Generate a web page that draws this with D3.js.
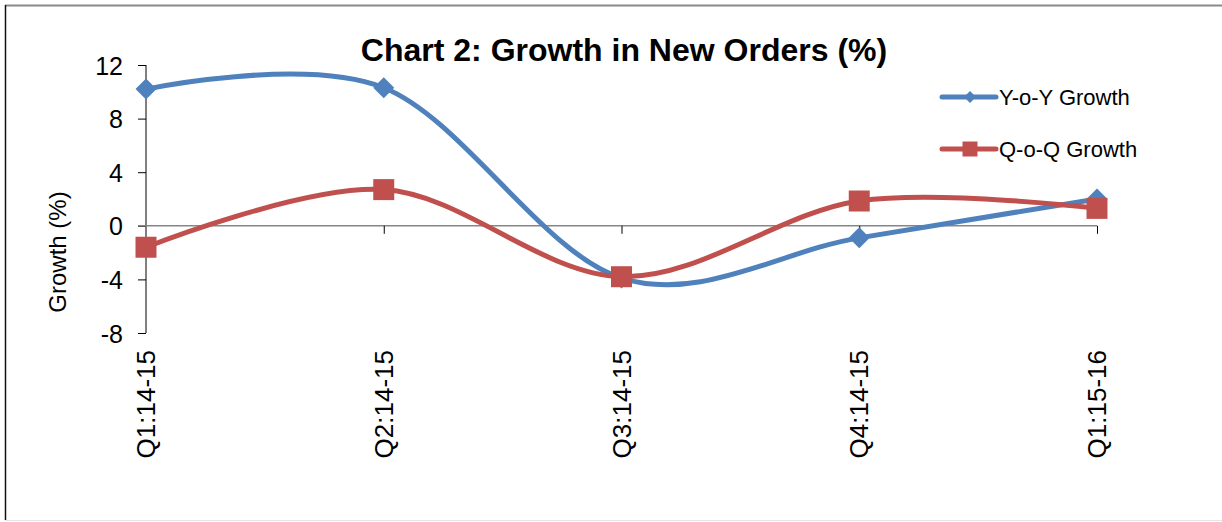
<!DOCTYPE html>
<html>
<head>
<meta charset="utf-8">
<script src="https://cdn.jsdelivr.net/npm/d3@7"></script>
<style>
  body { margin: 0; background: #fff; overflow: hidden; }
  text { font-family: "Liberation Sans", Arial, sans-serif; fill: #000; }
</style>
</head>
<body>
<div id="chart"></div>
<script>
var quarters = ['Q1:14-15', 'Q2:14-15', 'Q3:14-15', 'Q4:14-15', 'Q1:15-16'];
var yoyGrowth = [10.2, 10.3, -3.9, -0.9, 2.0];
var qoqGrowth = [-1.6, 2.7, -3.8, 1.85, 1.3];
var yTicks = [-8, -4, 0, 4, 8, 12];

var width = 1222, height = 522;
var margin = {top: 65, left: 146, right: 125, bottom: 189};
var chartWidth = width - margin.left - margin.right;
var chartHeight = height - margin.top - margin.bottom;

var svg = d3.select('#chart').append('svg')
  .attr('width', width)
  .attr('height', height)
  .style('display', 'block');

// outer frame, cropped on the right like the original
svg.append('line')
  .attr('x1', 5).attr('x2', width).attr('y1', 5.5).attr('y2', 5.5)
  .attr('stroke', '#8a8a8a').attr('stroke-width', 2);
svg.append('line')
  .attr('x1', 5.5).attr('x2', 5.5).attr('y1', 5).attr('y2', 520)
  .attr('stroke', '#111').attr('stroke-width', 1.5);
svg.append('line')
  .attr('x1', 5).attr('x2', width).attr('y1', 520.5).attr('y2', 520.5)
  .attr('stroke', '#e6e6e6').attr('stroke-width', 1);

var g = svg.append('g')
  .attr('transform', `translate(${margin.left}, ${margin.top})`);

var xScale = d3.scalePoint()
  .domain(quarters)
  .range([0, chartWidth]);

var yScale = d3.scaleLinear()
  .domain([-8, 12])
  .range([chartHeight, 0]);

// y axis
var yAxis = d3.axisLeft(yScale).tickValues(yTicks).tickSize(8).tickPadding(15)
  .tickFormat(d => String(d));
var yG = g.append('g').attr('class', 'y axis').call(yAxis);
yG.attr('font-family', null).attr('font-size', null);
yG.select('.domain').attr('stroke', '#000').attr('d', `M0,${chartHeight}V0`);
yG.selectAll('.tick line').attr('stroke', '#000');
yG.selectAll('.tick text')
  .style('font-size', '25px')
  .attr('dy', '0.36em');

// x axis along zero
var xAxis = d3.axisBottom(xScale).tickSize(8).tickFormat('');
var xG = g.append('g').attr('class', 'x axis')
  .attr('transform', `translate(0,${yScale(0)})`)
  .call(xAxis);
xG.select('.domain').attr('stroke', '#868686').attr('stroke-width', 1.5)
  .attr('d', `M-8,0H${chartWidth}`);
xG.selectAll('.tick line').attr('stroke', '#000');
xG.selectAll('.tick').filter((d, i) => i === 0).select('line').remove();

// category labels, rotated, hung below the plot
g.append('g').selectAll('text.cat')
  .data(quarters)
  .enter().append('text')
  .attr('class', 'cat')
  .attr('transform', d => `translate(${xScale(d) + 9}, ${chartHeight + 17}) rotate(-90)`)
  .attr('text-anchor', 'end')
  .style('font-size', '26px')
  .text(d => d);

// y axis title
svg.append('text')
  .attr('transform', 'translate(66, 252) rotate(-90)')
  .attr('text-anchor', 'middle')
  .style('font-size', '24px')
  .text('Growth (%)');

// title
svg.append('text')
  .attr('x', 624).attr('y', 61)
  .attr('text-anchor', 'middle')
  .style('font-size', '32px')
  .style('font-weight', 'bold')
  .text('Chart 2: Growth in New Orders (%)');

var line = d3.line()
  .x((d, i) => xScale(quarters[i]))
  .y(d => yScale(d))
  .curve(d3.curveCardinal.tension(0));

var series = [
  {name: 'Y-o-Y Growth', values: yoyGrowth, color: '#4F81BD', marker: 'diamond'},
  {name: 'Q-o-Q Growth', values: qoqGrowth, color: '#C0504D', marker: 'square'}
];

function markerPath(type, s) {
  if (type === 'diamond') return `M0,${-s}L${s},0L0,${s}L${-s},0Z`;
  return `M${-s},${-s}H${s}V${s}H${-s}Z`;
}

series.forEach(function(s) {
  g.append('path')
    .datum(s.values)
    .attr('fill', 'none')
    .attr('stroke', s.color)
    .attr('stroke-width', 5)
    .attr('stroke-linecap', 'round')
    .attr('d', line);
});

series.forEach(function(s) {
  g.selectAll('.m-' + s.marker)
    .data(s.values)
    .enter().append('path')
    .attr('class', 'm-' + s.marker)
    .attr('transform', (d, i) => `translate(${xScale(quarters[i])}, ${yScale(d)})`)
    .attr('d', markerPath(s.marker, s.marker === 'diamond' ? 10.5 : 10.5))
    .attr('fill', s.color);
});

// legend
var legend = svg.append('g').attr('transform', 'translate(942, 97)');
series.forEach(function(s, i) {
  var lg = legend.append('g').attr('transform', `translate(0, ${i * 52})`);
  lg.append('line')
    .attr('x1', 0).attr('x2', 54)
    .attr('stroke', s.color).attr('stroke-width', 5)
    .attr('stroke-linecap', 'round');
  lg.append('path')
    .attr('transform', 'translate(28,0)')
    .attr('d', markerPath(s.marker, s.marker === 'diamond' ? 6 : 7.5))
    .attr('fill', s.color);
  lg.append('text')
    .attr('x', 57).attr('y', 8)
    .style('font-size', '22px')
    .text(s.name);
});
</script>
</body>
</html>
